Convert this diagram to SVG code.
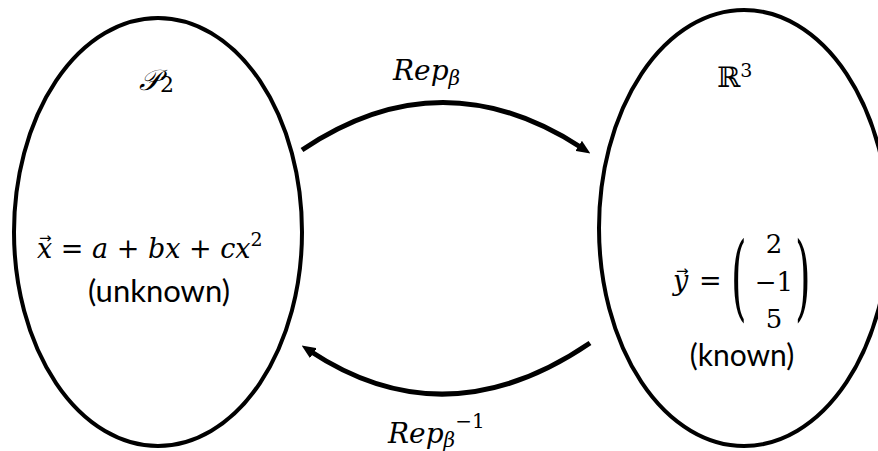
<svg xmlns="http://www.w3.org/2000/svg" width="878" height="451" viewBox="0 0 878 451">
  <style>
    .set { fill: #ffffff; stroke: #000000; stroke-width: 4; }
    .map { fill: none; stroke: #000000; stroke-width: 5; }
    .math { font-family: "DejaVu Serif", "Liberation Serif", serif; font-style: italic; fill: #000000; }
    .num { font-family: "DejaVu Serif", "Liberation Serif", serif; font-style: normal; fill: #000000; }
    .vec { font-family: "DejaVu Sans", sans-serif; font-size: 15px; fill: #000000; }
    .txt { font-family: Lato, "Open Sans", "Liberation Sans", sans-serif; fill: #000000; }
  </style>
  <defs>
    <marker id="head" viewBox="0 0 14 12" refX="4" refY="6" markerWidth="14" markerHeight="12" markerUnits="userSpaceOnUse" orient="auto">
      <path d="M0,0 L14,6 L0,12 z" fill="#000000"/>
    </marker>
  </defs>

  <!-- polynomial space P2 -->
  <g id="node-p2">
    <ellipse class="set" cx="158" cy="232" rx="144" ry="214"/>
    <text class="math" x="139" y="90" font-size="29">𝒫<tspan class="num" font-size="22" dy="2">2</tspan></text>
    <text class="vec" x="39" y="243">→</text>
    <text class="math" x="37" y="258" font-size="27">x <tspan class="num">=</tspan> a <tspan class="num">+</tspan> bx <tspan class="num">+</tspan> cx<tspan class="num" font-size="19" dy="-12">2</tspan></text>
    <text class="txt" x="159" y="302" font-size="31" text-anchor="middle">(unknown)</text>
  </g>

  <!-- coordinate space R3 -->
  <g id="node-r3">
    <ellipse class="set" cx="744" cy="228" rx="145" ry="218"/>
    <text class="num" x="717" y="87" font-size="28">ℝ<tspan font-size="19" dy="-10">3</tspan></text>
    <text class="vec" x="676" y="276">→</text>
    <text class="math" x="673" y="290" font-size="27">y</text>
    <text class="num" x="699" y="290" font-size="27">=</text>
    <text class="num" x="0" y="0" font-size="40" transform="translate(731,309) scale(1,2.35)">(</text>
    <text class="num" x="0" y="0" font-size="40" transform="translate(795,309) scale(1,2.35)">)</text>
    <text class="num" x="774" y="253" font-size="26" text-anchor="middle">2</text>
    <text class="num" x="774" y="291" font-size="26" text-anchor="middle">−1</text>
    <text class="num" x="774" y="328" font-size="26" text-anchor="middle">5</text>
    <text class="txt" x="742" y="366" font-size="30" text-anchor="middle">(known)</text>
  </g>

  <!-- maps between the spaces -->
  <g id="connectors">
    <path class="map" d="M302,150 Q441,56 582,148" marker-end="url(#head)"/>
    <path class="map" d="M590,343 Q446,441 310,351" marker-end="url(#head)"/>
  </g>

  <g id="label-rep">
    <text class="math" x="393" y="80" font-size="28">Rep<tspan font-size="20" dy="5">β</tspan></text>
  </g>
  <g id="label-rep-inverse">
    <text class="math" x="388" y="443" font-size="28">Rep<tspan font-size="20" dy="4">β</tspan><tspan class="num" font-size="20" dy="-19">−1</tspan></text>
  </g>
</svg>
